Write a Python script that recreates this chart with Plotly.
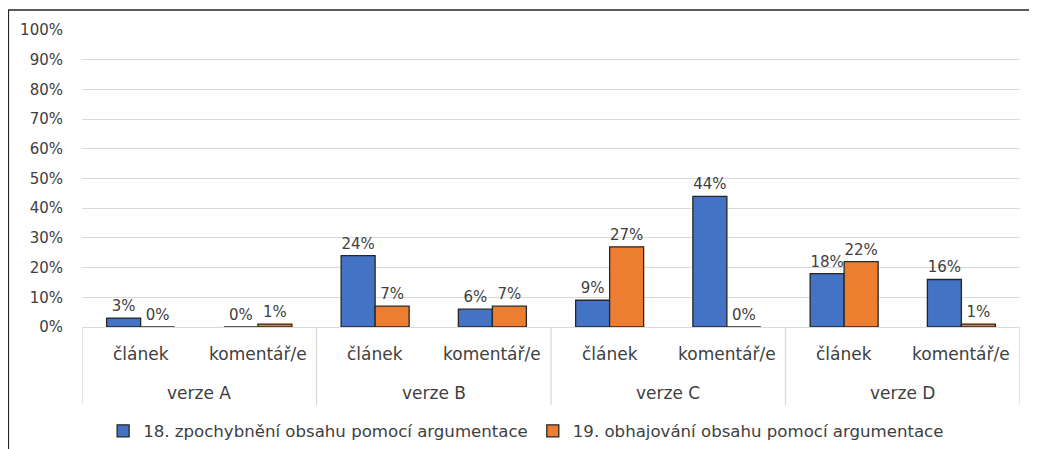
import plotly.graph_objects as go

groups = ["verze A", "verze B", "verze C", "verze D"]
subcats = ["článek", "komentář/e"]
series_names = ["18. zpochybnění obsahu pomocí argumentace",
                "19. obhajování obsahu pomocí argumentace"]
s18 = [0.03, 0.00, 0.24, 0.06, 0.09, 0.44, 0.18, 0.16]
s19 = [0.00, 0.01, 0.07, 0.07, 0.27, 0.00, 0.22, 0.01]
colors = ["#4472C4", "#ED7D31"]

FONT = "DejaVu Sans"
FS = 15
FS_TXT = 17
FS_LEG = 16.6
TXT = "#404040"
GRID = "#d9d9d9"

n_sub = len(subcats)
xpos = list(range(len(groups) * n_sub))

fig = go.Figure()
for name, vals, col in zip(series_names, [s18, s19], colors):
    fig.add_trace(go.Bar(
        x=xpos, y=vals, name=name,
        marker=dict(color=col, line=dict(color="#262626", width=1.3)),
        texttemplate="%{y:.0%}", textposition="outside",
        textfont=dict(family=FONT, size=FS, color=TXT),
        cliponaxis=False,
    ))

annotations = []
shapes = []
for i in xpos:
    annotations.append(dict(x=i, y=-0.091, xref="x", yref="paper", text=subcats[i % n_sub],
                            showarrow=False, xanchor="center", yanchor="middle",
                            font=dict(family=FONT, size=FS_TXT, color=TXT)))
for g, gname in enumerate(groups):
    center = g * n_sub + (n_sub - 1) / 2
    annotations.append(dict(x=center, y=-0.222, xref="x", yref="paper", text=gname,
                            showarrow=False, xanchor="center", yanchor="middle",
                            font=dict(family=FONT, size=FS_TXT, color=TXT)))
for b in range(len(groups) + 1):
    xb = b * n_sub - 0.5
    shapes.append(dict(type="line", xref="x", yref="paper", x0=xb, x1=xb, y0=0, y1=-0.263,
                       line=dict(color=GRID, width=1.3)))

shapes.append(dict(type="rect", xref="paper", yref="paper",
                   x0=-0.0785, x1=1.1, y0=-0.6, y1=1.067,
                   line=dict(color="#262626", width=1.5), fillcolor="rgba(0,0,0,0)", layer="below"))

fig.update_layout(
    width=1029, height=441,
    margin=dict(l=74, r=17, t=22, b=122),
    paper_bgcolor="white", plot_bgcolor="white",
    barmode="group", bargap=0.42, bargroupgap=0,
    font=dict(family=FONT, size=FS, color=TXT),
    legend=dict(orientation="h", x=0.4735, xanchor="center",
                yref="container", y=0.0408, yanchor="middle",
                font=dict(family=FONT, size=FS_LEG, color=TXT), itemclick=False),
    annotations=annotations, shapes=shapes,
)
fig.update_yaxes(range=[0, 1], dtick=0.1, tickformat=".0%", gridcolor=GRID, gridwidth=1.3,
                 zeroline=False, showline=False, ticklabelstandoff=18, automargin=False,
                 tickfont=dict(family=FONT, size=FS, color=TXT))
fig.update_xaxes(range=[-0.5, len(xpos) - 0.5], showline=True, linecolor=GRID, linewidth=1.3,
                 showgrid=False, zeroline=False, showticklabels=False, ticks="", automargin=False)

fig.write_html("out.html")
